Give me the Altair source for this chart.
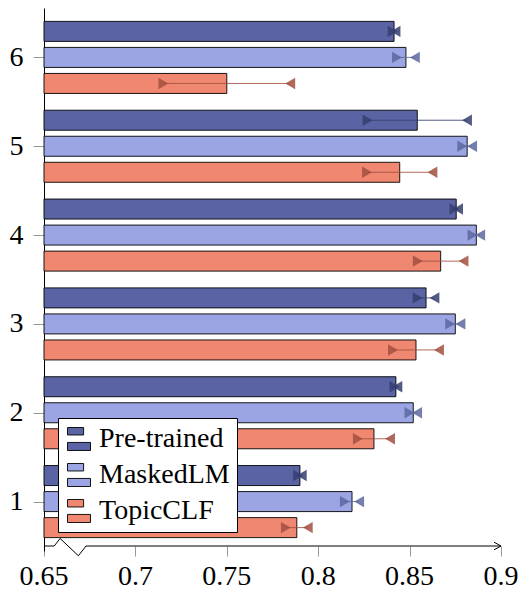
import altair as alt
import pandas as pd

groups = [1, 2, 3, 4, 5, 6]
series = ["Pre-trained", "MaskedLM", "TopicCLF"]
pretrained_mean = [0.790, 0.8425, 0.859, 0.8755, 0.8542, 0.8415]
pretrained_err = [0.001, 0.0008, 0.0046, 0.001, 0.0272, 0.0008]
maskedlm_mean = [0.8185, 0.852, 0.875, 0.8865, 0.8815, 0.848]
maskedlm_err = [0.0039, 0.0021, 0.0028, 0.0021, 0.0027, 0.0049]
topicclf_mean = [0.7883, 0.8305, 0.8535, 0.867, 0.8446, 0.750]
topicclf_err = [0.006, 0.0088, 0.0126, 0.0125, 0.0179, 0.0347]

x_ticks = [0.65, 0.7, 0.75, 0.8, 0.85, 0.9]
x_tick_labels = ["0.65", "0.7", "0.75", "0.8", "0.85", "0.9"]
# axis break decoration (x in data units, y in y-scale units)
break_x = [0.65, 0.6556, 0.6588, 0.6688, 0.673, 0.9]
break_y = [0.5, 0.5, 0.585, 0.39, 0.5, 0.5]

fill_colors = ["#5A64A5", "#9BA5E3", "#F08770"]
err_colors = ["#353E70", "#5C689F", "#A2503F"]
offsets = {"Pre-trained": 0.293, "MaskedLM": 0.0, "TopicCLF": -0.293}

rows = []
for name, means, errs in [("Pre-trained", pretrained_mean, pretrained_err),
                          ("MaskedLM", maskedlm_mean, maskedlm_err),
                          ("TopicCLF", topicclf_mean, topicclf_err)]:
    for g, m, e in zip(groups, means, errs):
        rows.append({"group": g, "series": name, "mean": m, "err": e,
                     "off": offsets[name]})
df = pd.DataFrame(rows)

FONT = "Liberation Serif"
FS = 28

x_scale = alt.Scale(domain=[0.65, 0.9], zero=False, nice=False)
y_scale = alt.Scale(domain=[0.5, 6.5], zero=False, nice=False)

base = alt.Chart(df).transform_calculate(
    pos="datum.group + datum.off",
    lo="datum.mean - datum.err",
    hi="datum.mean + datum.err",
    base="0.65",
)

bars = base.mark_bar(size=20, stroke="black", strokeWidth=0.9).encode(
    x=alt.X("mean:Q", scale=x_scale,
            axis=alt.Axis(values=x_ticks, labels=False, title=None, domain=False,
                          grid=False, tickColor="#999999", tickSize=10, offset=-5)),
    x2="base:Q",
    y=alt.Y("pos:Q", scale=y_scale,
            axis=alt.Axis(values=groups, format="d", title=None, grid=False,
                          domainColor="black", domainWidth=1,
                          tickColor="#999999", tickSize=11, labelPadding=10,
                          labelFont=FONT, labelFontSize=FS, labelColor="black")),
    color=alt.Color("series:N",
                    scale=alt.Scale(domain=series, range=fill_colors),
                    legend=alt.Legend(
                        title=None, orient="none", legendX=14, legendY=410,
                        fillColor="white", strokeColor="black", padding=7,
                        symbolType="M-1,-1H0.4V-0.35H-1Z M-1,0.3H1V1H-1Z",
                        symbolSize=529, symbolStrokeColor="black",
                        symbolStrokeWidth=0.9, symbolOpacity=1,
                        labelFont=FONT, labelFontSize=FS, labelColor="black",
                        labelOffset=6, rowPadding=8, cornerRadius=0)),
)

err_color = alt.Color("series:N", scale=alt.Scale(domain=series, range=err_colors),
                      legend=None)

rules = base.mark_rule(strokeWidth=1, opacity=0.85).encode(
    x="lo:Q", x2="hi:Q", y="pos:Q", stroke=err_color
)
lo_pts = base.mark_point(shape="triangle-right", filled=True, size=130, opacity=0.85).encode(
    x="lo:Q", y="pos:Q", fill=err_color
)
hi_pts = base.mark_point(shape="triangle-left", filled=True, size=130, opacity=0.85).encode(
    x="hi:Q", y="pos:Q", fill=err_color
)

brk = pd.DataFrame({"bx": break_x, "by": break_y, "i": list(range(len(break_x)))})
axis_line = alt.Chart(brk).mark_line(color="black", strokeWidth=1).encode(
    x=alt.X("bx:Q", scale=x_scale), y=alt.Y("by:Q", scale=y_scale), order="i:Q"
)
arrow = alt.Chart(brk).transform_filter("datum.i == 5").mark_point(
    shape="M-1,-0.55L0,0L-1,0.55", filled=False, stroke="black", strokeWidth=1,
    size=196, opacity=1
).encode(x=alt.X("bx:Q", scale=x_scale), y=alt.Y("by:Q", scale=y_scale))

ticks_df = pd.DataFrame({"tv": x_ticks, "tl": x_tick_labels})
tick_labels = alt.Chart(ticks_df).mark_text(
    font=FONT, fontSize=FS, color="black", align="center", baseline="alphabetic"
).encode(x=alt.X("tv:Q", scale=x_scale), y=alt.value(577), text="tl:N")

chart = alt.layer(bars, rules, lo_pts, hi_pts, axis_line, arrow, tick_labels).resolve_scale(
    color="independent", fill="independent", stroke="independent"
).properties(
    width=457, height=543,
    autosize=alt.AutoSizeParams(type="none"),
    padding={"left": 36, "top": 0, "right": 20, "bottom": 40},
).configure_view(stroke=None)

chart.save("out.html", embed_options={"renderer": "svg", "actions": False})
